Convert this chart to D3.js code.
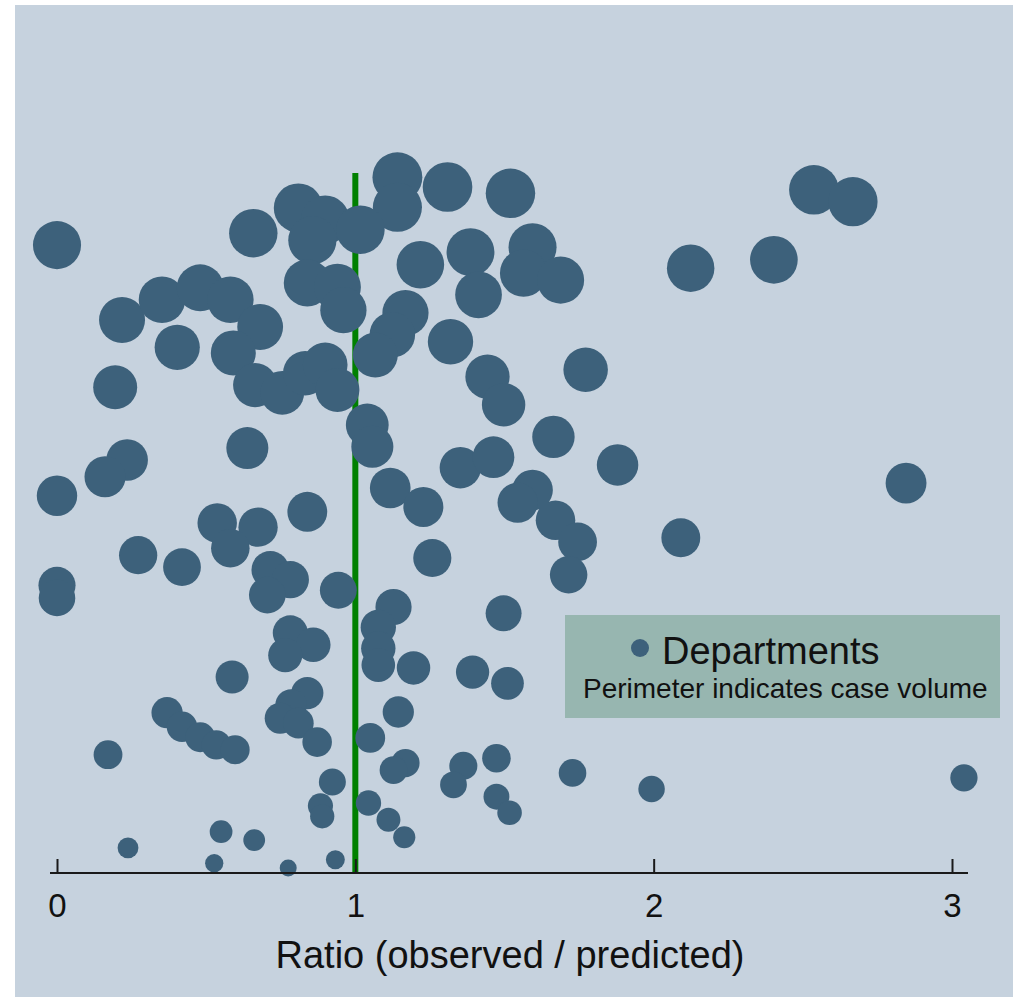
<!DOCTYPE html>
<html>
<head>
<meta charset="utf-8">
<script src="https://cdn.jsdelivr.net/npm/d3@7"></script>
<style>
  html, body { margin: 0; padding: 0; background: #ffffff; }
  svg { display: block; }
  text { font-family: "Liberation Sans", Arial, sans-serif; }
</style>
</head>
<body>
<svg id="chart" width="1015" height="997"></svg>
<script>
// ratio observed / predicted for each department
const ratios = [
  1.141, 1.141, 1.309, 1.520, 2.537, 2.668, 0.000, 0.658, 0.809, 0.899,
  0.856, 1.017, 1.386, 1.594, 1.564, 1.218, 1.688, 2.124, 2.403, 0.839,
  0.940, 0.960, 1.413, 0.218, 0.352, 0.480, 0.581, 0.681, 0.591, 0.403,
  0.664, 0.755, 0.832, 0.899, 0.940, 1.168, 1.124, 1.067, 1.319, 1.443,
  1.497, 1.772, 0.195, 1.040, 1.057, 1.664, 0.638, 0.235, 0.161, 1.352,
  1.463, 1.879, 2.846, 0.000, 1.117, 1.228, 1.594, 1.544, 1.671, 1.745,
  1.715, 2.091, 0.839, 0.537, 0.674, 0.581, 0.272, 0.419, 1.258, 0.000,
  0.000, 0.715, 0.782, 0.705, 0.943, 1.128, 1.077, 1.077, 1.077, 1.497,
  0.782, 0.859, 0.765, 1.195, 1.393, 1.510, 0.587, 0.839, 0.785, 0.748,
  0.809, 0.872, 0.369, 0.419, 0.480, 0.534, 0.597, 0.171, 1.050, 1.144,
  1.168, 1.128, 1.362, 1.329, 1.473, 1.473, 1.517, 1.728, 1.993, 3.040,
  0.923, 1.044, 0.883, 0.889, 1.111, 1.164, 0.238, 0.550, 0.661, 0.527,
  0.775, 0.933
];

// case volume (relative, 0-100) for each department
const volumes = [
  99.4, 95.1, 98.0, 97.1, 97.6, 95.9, 89.7, 91.4, 95.0, 93.3,
  90.4, 91.9, 88.7, 89.4, 85.7, 86.9, 84.7, 86.4, 87.6, 84.3,
  83.7, 80.4, 82.6, 79.0, 81.9, 83.6, 81.9, 78.0, 74.3, 75.1,
  69.7, 68.6, 71.4, 72.6, 69.0, 80.0, 76.9, 74.0, 75.9, 70.9,
  66.9, 71.9, 69.4, 64.0, 60.9, 62.3, 60.7, 59.0, 56.6, 57.9,
  59.4, 58.3, 55.7, 53.9, 55.0, 52.3, 54.7, 52.9, 50.4, 47.3,
  42.6, 47.9, 51.6, 50.0, 49.4, 46.4, 45.4, 43.7, 45.0, 41.1,
  39.3, 43.3, 41.9, 39.7, 40.4, 38.0, 35.1, 32.1, 29.7, 37.1,
  34.3, 32.6, 31.1, 29.3, 28.7, 27.1, 28.0, 25.7, 24.0, 22.1,
  21.4, 18.7, 22.9, 20.9, 19.4, 18.3, 17.6, 16.9, 19.3, 23.0,
  15.7, 14.7, 15.3, 12.6, 16.4, 10.9, 8.6, 14.3, 12.0, 13.6,
  13.0, 10.0, 9.6, 8.1, 7.6, 5.1, 3.6, 5.9, 4.7, 1.4,
  0.7, 1.9
];

const xTicks = [0, 1, 2, 3];
const targetRatio = 1;
const legendTitle = "Departments";
const legendNote = "Perimeter indicates case volume";
const xTitle = "Ratio (observed / predicted)";

const points = ratios.map((r, i) => ({ ratio: r, volume: volumes[i] }));

const svg = d3.select("#chart");

// panel background
svg.append("rect")
  .attr("x", 15).attr("y", 5)
  .attr("width", 998).attr("height", 992)
  .attr("fill", "#c6d2de");

const x = d3.scaleLinear().domain([0, 3]).range([57, 952]);
const y = d3.scaleLinear().domain([0, 100]).range([873, 173]);
const r = d3.scaleSqrt().domain([0, 100]).range([7, 25]);

// reference line at ratio 1
svg.append("line")
  .attr("x1", x(targetRatio)).attr("x2", x(targetRatio))
  .attr("y1", y(0)).attr("y2", y(100))
  .attr("stroke", "#008000")
  .attr("stroke-width", 6);

svg.append("g")
  .selectAll("circle")
  .data(points)
  .join("circle")
  .attr("cx", d => x(d.ratio))
  .attr("cy", d => y(d.volume))
  .attr("r", d => r(d.volume))
  .attr("fill", "#3d617b");

// x axis
svg.append("line")
  .attr("x1", x(0) - 7).attr("x2", x(3) + 16)
  .attr("y1", y(0)).attr("y2", y(0))
  .attr("stroke", "#1a1a1a")
  .attr("stroke-width", 2);

const axis = svg.append("g")
  .attr("transform", `translate(0,${y(0)})`)
  .call(d3.axisBottom(x).tickValues(xTicks).tickFormat(d3.format("d"))
    .tickSizeInner(-14).tickSizeOuter(0).tickPadding(21));

axis.select(".domain").remove();
axis.selectAll(".tick line").attr("stroke", "#1a1a1a").attr("stroke-width", 2);
axis.selectAll(".tick text")
  .attr("fill", "#111")
  .style("font-size", "33px")
  .style("font-family", "'Liberation Sans', Arial, sans-serif");

svg.append("text")
  .attr("x", 510).attr("y", 968)
  .attr("text-anchor", "middle")
  .attr("fill", "#111")
  .style("font-size", "38px")
  .text(xTitle);

// legend
const legend = svg.append("g");
legend.append("rect")
  .attr("x", 565).attr("y", 615)
  .attr("width", 435).attr("height", 103)
  .attr("fill", "#97b6b0");
legend.append("circle")
  .attr("cx", 640).attr("cy", 648)
  .attr("r", 9)
  .attr("fill", "#3d617b");
legend.append("text")
  .attr("x", 662).attr("y", 664)
  .attr("fill", "#111")
  .style("font-size", "38px")
  .text(legendTitle);
legend.append("text")
  .attr("x", 583).attr("y", 698)
  .attr("fill", "#111")
  .style("font-size", "28px")
  .text(legendNote);
</script>
</body>
</html>
